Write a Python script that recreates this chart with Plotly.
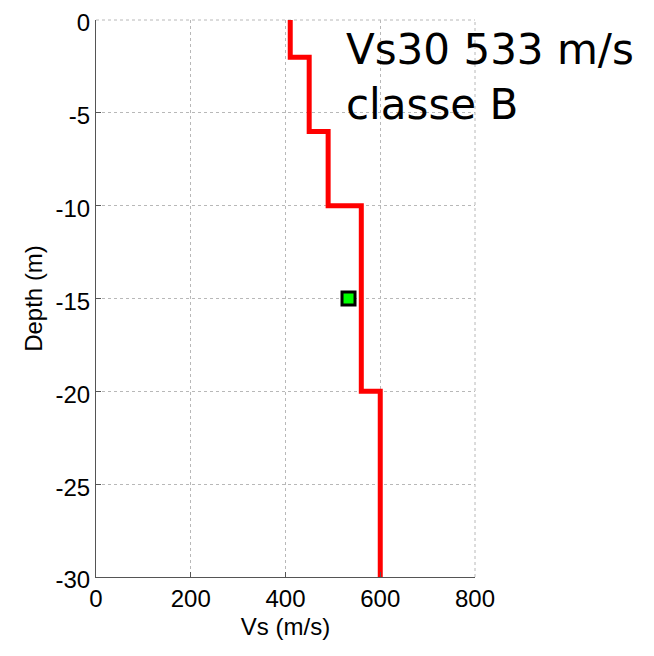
"""Vs profile with Vs30 annotation (plotly)"""
import plotly.graph_objects as go

# layer boundaries (m) and shear-wave velocity of each layer (m/s)
layer_top = [0, -2, -6, -10, -20]
layer_bottom = [-2, -6, -10, -20, -30]
vs_layer = [410, 450, 490, 560, 600]

vs30 = 533
vs30_depth = -15
site_class = "B"

x_ticks = [0, 200, 400, 600, 800]
y_ticks = [0, -5, -10, -15, -20, -25, -30]
y_tick_labels = ["0", "-5", "-10", "-15", "-20", "-25", "-30"]

GRID = "#b8b8b8"

# step profile
xs, ys = [], []
for top, bot, v in zip(layer_top, layer_bottom, vs_layer):
    xs += [v, v]
    ys += [top, bot]

fig = go.Figure()
fig.add_trace(
    go.Scatter(
        x=xs, y=ys, mode="lines",
        line=dict(color="#ff0000", width=5),
        cliponaxis=False,
    )
)
fig.add_trace(
    go.Scatter(
        x=[vs30], y=[vs30_depth], mode="markers",
        marker=dict(symbol="square", size=13, color="#00ff00",
                    line=dict(color="black", width=3)),
    )
)

# plotly drops the grid lines at the range ends, redraw top and right ones
fig.add_shape(type="line", xref="paper", yref="paper", x0=0, x1=1, y0=1, y1=1,
              line=dict(color=GRID, width=1, dash="dot"), layer="below")
fig.add_shape(type="line", xref="paper", yref="paper", x0=1, x1=1, y0=0, y1=1,
              line=dict(color=GRID, width=1, dash="dot"), layer="below")

fig.add_annotation(
    xref="paper", yref="paper", x=0.655, y=0.995,
    xanchor="left", yanchor="top", align="left",
    text=f"Vs30 {vs30} m/s<br>classe {site_class}",
    showarrow=False,
    font=dict(family="DejaVu Sans", size=42, color="black"),
)

axis_font = dict(family="Liberation Sans", size=24, color="black")
fig.update_layout(
    width=654, height=656,
    margin=dict(l=88, r=187, t=12, b=87, autoexpand=False),
    paper_bgcolor="white", plot_bgcolor="white",
    showlegend=False,
    font=axis_font,
)
fig.update_xaxes(
    range=[0, 800], tickvals=x_ticks,
    title=dict(text="Vs (m/s)", font=axis_font, standoff=7),
    showgrid=True, gridcolor=GRID, griddash="dot", gridwidth=1,
    showline=True, linecolor="#555555", linewidth=1,
    ticks="inside", ticklen=5, tickcolor="#555555",
    zeroline=False, automargin=False, ticklabeloverflow="allow",
)
fig.update_yaxes(
    range=[-30, 0], tickvals=y_ticks, ticktext=y_tick_labels,
    title=dict(text="Depth (m)", font=axis_font, standoff=6),
    showgrid=True, gridcolor=GRID, griddash="dot", gridwidth=1,
    showline=True, linecolor="#555555", linewidth=1,
    ticks="inside", ticklen=5, tickcolor="#555555",
    zeroline=False, automargin=False, ticklabeloverflow="allow",
    ticklabelshift=3,
)

fig.write_html("out.html")
